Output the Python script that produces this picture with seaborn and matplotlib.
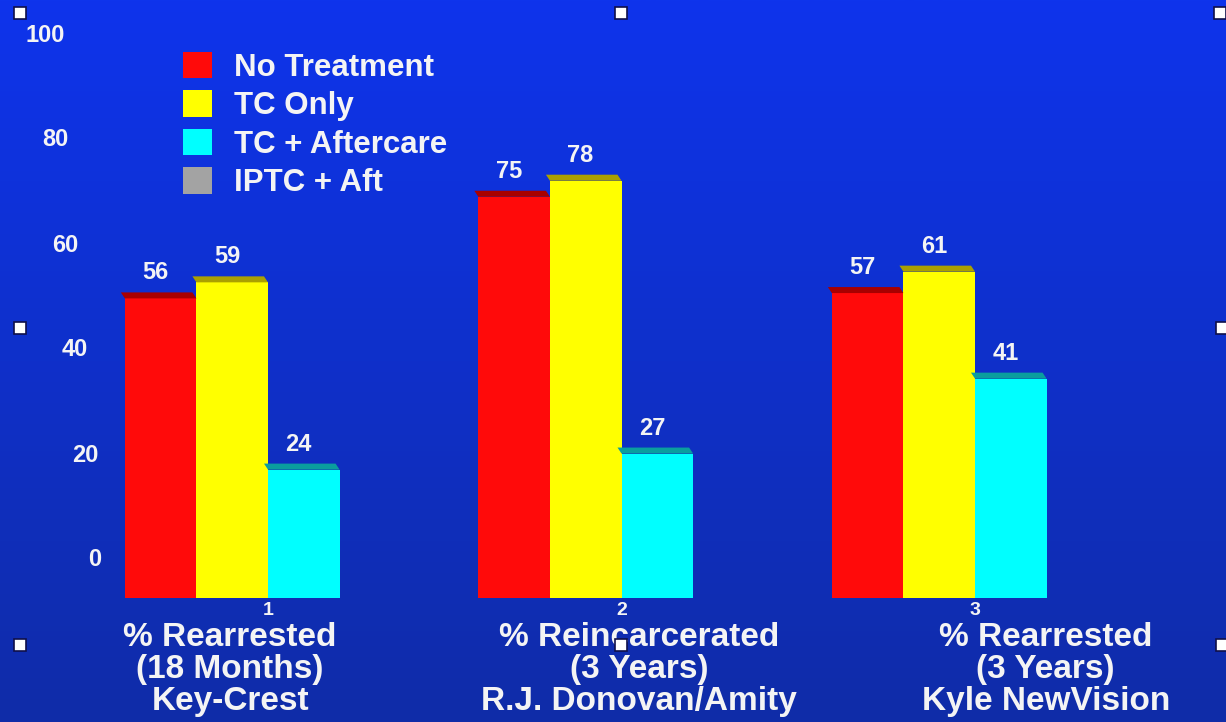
import numpy as np
import pandas as pd
import matplotlib
matplotlib.use("Agg")
import matplotlib.pyplot as plt
from matplotlib.patches import Patch, Polygon, Rectangle
import seaborn as sns

# ---- data -------------------------------------------------------------
programs = [
    "% Rearrested\n(18 Months)\nKey-Crest",
    "% Reincarcerated\n(3 Years)\nR.J. Donovan/Amity",
    "% Rearrested\n(3 Years)\nKyle NewVision",
]
program_numbers = ["1", "2", "3"]
series = ["No Treatment", "TC Only", "TC + Aftercare", "IPTC + Aft"]
no_treatment = [56, 75, 57]
tc_only = [59, 78, 61]
tc_aftercare = [24, 27, 41]
iptc_aft = [np.nan, np.nan, np.nan]
wall_ticks = [0, 20, 40, 60, 80, 100]

colors = {"No Treatment": "#ff0a0a", "TC Only": "#ffff00",
          "TC + Aftercare": "#00ffff", "IPTC + Aft": "#a3a3a3"}
top_colors = {"No Treatment": "#a80000", "TC Only": "#aaa000",
              "TC + Aftercare": "#0a9e9e", "IPTC + Aft": "#707070"}

df = pd.DataFrame({
    "program": program_numbers * 4,
    "series": np.repeat(series, 3),
    "value": no_treatment + tc_only + tc_aftercare + iptc_aft,
})

# ---- figure -----------------------------------------------------------
W, H = 1226, 722
plt.rcParams["font.family"] = ["Liberation Sans", "DejaVu Sans"]
fig = plt.figure(figsize=(W / 100, H / 100), dpi=100)
TXT = "#f4f4f4"

# blue backdrop gradient
bg = fig.add_axes([0, 0, 1, 1], zorder=0)
top_rgb = np.array([14, 52, 236]) / 255
bot_rgb = np.array([16, 44, 168]) / 255
t = np.linspace(0, 1, 256)[:, None]
grad = (top_rgb * (1 - t) + bot_rgb * t)[:, None, :]
bg.imshow(grad, aspect="auto", extent=(0, 1, 0, 1))
bg.set_axis_off()

# main bar axes: category positions 0..2, value scale in percent
ax = fig.add_axes([0, 0, 1, 1], zorder=2)
ax.patch.set_alpha(0)
sns.barplot(data=df, x="program", y="value", hue="series",
            hue_order=series, order=program_numbers, palette=colors,
            width=0.81, errorbar=None, legend=False, ax=ax,
            saturation=1, linewidth=0)

px_x = 353.5          # pixels per category step
px_y = 5.35           # pixels per percent
x0_px, y0_px = 268, 124
ax.set_xlim(-x0_px / px_x, (W - x0_px) / px_x)
ax.set_ylim(-y0_px / px_y, (H - y0_px) / px_y)
ax.set_xlabel("")
ax.set_ylabel("")
ax.spines["bottom"].set_position(("data", 0))
for s in ax.spines.values():
    s.set_visible(False)
ax.yaxis.set_visible(False)
ax.tick_params(axis="x", length=0, pad=3, colors=TXT, labelsize=14)
for lbl in ax.get_xticklabels():
    lbl.set_fontweight("bold")

# top faces and value labels
face_dy = 6 / px_y
face_dx = 4 / px_x
for container, name in zip(ax.containers, series):
    for patch in container:
        h = patch.get_height()
        if not np.isfinite(h) or h == 0:
            continue
        x = patch.get_x()
        w = patch.get_width()
        ax.add_patch(Polygon(
            [(x, h), (x + w, h), (x + w - face_dx, h + face_dy), (x - face_dx, h + face_dy)],
            closed=True, facecolor=top_colors[name], edgecolor="none", zorder=3))
        ax.text(x + w / 2 - 0.015, h + face_dy + 1.5, f"{h:.0f}",
                ha="center", va="bottom", color=TXT, fontsize=17,
                fontweight="bold", zorder=4)

# category captions (text boxes drift right of the group numbers)
caption_shift = [-0.107, 0.05, 0.2]
for i, (cap, dx) in enumerate(zip(programs, caption_shift)):
    ax.text(i + dx, -4.5, cap, ha="center", va="top", color=TXT,
            fontsize=24, fontweight="bold", linespacing=1.03)

# back-wall value scale (offset by the 3D perspective)
wall = fig.add_axes([0, 0, 1, 1], zorder=1)
wall.patch.set_alpha(0)
wall.set_axis_off()
wall.set_xlim(0, W)
wall_px = 5.25
wall_base = 162
wall.set_ylim(-wall_base / wall_px, (H - wall_base) / wall_px)
for v in wall_ticks:
    wall.text(95 - 0.5 * v, v, str(v), ha="center", va="center",
              color=TXT, fontsize=17, fontweight="bold")

# legend
handles = [Patch(facecolor=colors[s], edgecolor="none") for s in series]
leg = ax.legend(handles, series, loc="upper left",
                bbox_to_anchor=(183 / W, 1 - 52 / H), bbox_transform=fig.transFigure,
                frameon=False, borderpad=0, borderaxespad=0,
                handlelength=0.92, handleheight=0.92, handletextpad=0.72,
                labelspacing=0.24, prop={"size": 22.5, "weight": "bold"})
for tx in leg.get_texts():
    tx.set_color(TXT)

# selection handles around the chart frame
for hx, hy in [(20, 13), (621, 13), (1220, 13), (20, 328), (1222, 328),
               (20, 645), (621, 645), (1222, 645)]:
    fig.patches.append(Rectangle(((hx - 6) / W, 1 - (hy + 6) / H), 12 / W, 12 / H,
                                 transform=fig.transFigure, facecolor="white",
                                 edgecolor="#10104a", linewidth=1.2, zorder=10))

fig.savefig("out.png", dpi=100)
